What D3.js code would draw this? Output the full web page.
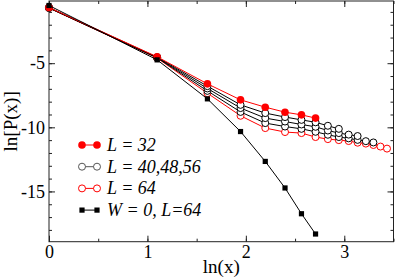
<!DOCTYPE html>
<html>
<head>
<meta charset="utf-8">
<script src="https://cdn.jsdelivr.net/npm/d3@7"></script>
<style>
  html, body { margin: 0; padding: 0; background: #fff; }
  svg { display: block; }
  text { font-family: "Liberation Serif", "Times New Roman", serif; }
</style>
</head>
<body>
<svg id="chart" width="395" height="280"></svg>
<script>
// distances x = 1,3,5,... ; plotted as ln(x)
const distances = [1, 3, 5, 7, 9, 11, 13, 15, 17, 19, 21, 23, 25, 27, 29, 31];

const seriesL32 = [-0.66, -4.50, -6.61, -7.86, -8.43, -8.82, -9.03, -9.28];
const seriesL40 = [-0.67, -4.53, -6.79, -8.25, -8.89, -9.20, -9.42, -9.61, -9.88, -10.12];
const seriesL48 = [-0.68, -4.56, -6.97, -8.50, -9.28, -9.55, -9.78, -9.96, -10.25, -10.45, -10.57, -10.68];
const seriesL56 = [-0.69, -4.58, -7.16, -8.80, -9.67, -9.94, -10.12, -10.35, -10.58, -10.76, -10.86, -10.98, -11.08, -11.18];
const seriesL64 = [-0.70, -4.60, -7.34, -9.10, -10.06, -10.37, -10.45, -10.76, -10.92, -11.00, -11.07, -11.20, -11.27, -11.38, -11.50, -11.66];
const seriesW0  = [-0.50, -4.74, -7.78, -10.33, -12.66, -14.73, -16.74, -18.32];

const xMajorTicks = [0, 1, 2, 3];
const yMajorTicks = [-5, -10, -15];
const legendLabels = ["L = 32", "L = 40,48,56", "L = 64", "W = 0, L=64"];

const svg = d3.select("#chart");
const pLeft = 49, pRight = 393.5, pTop = 1, pBottom = 241.7;

const x = d3.scaleLinear().domain([0, 3.5]).range([pLeft, pRight]);
const y = d3.scaleLinear().domain([-18.92, -0.15]).range([pBottom, pTop]);

const line = d3.line().x(d => x(d[0])).y(d => y(d[1]));
const pts = vals => vals.map((v, i) => [Math.log(distances[i]), v]);

// axes (ticks inward)
const fs = 18;
function styleAxis(g) {
  g.select(".domain").remove();
  g.selectAll("line").attr("stroke", "#222");
  g.selectAll("text").attr("font-size", fs).attr("fill", "#000")
    .attr("font-family", '"Liberation Serif", serif');
}
const xMinor = d3.range(0, 3.51, 0.5);
const yMinor = d3.range(-18, 0, 1);

svg.append("g").attr("transform", `translate(0,${pBottom})`)
  .call(d3.axisBottom(x).tickValues(xMinor).tickSize(-3).tickFormat("")).call(styleAxis);
svg.append("g").attr("transform", `translate(0,${pBottom})`)
  .call(d3.axisBottom(x).tickValues(xMajorTicks).tickSize(-6).tickPadding(4).tickFormat(d3.format("d"))).call(styleAxis);
svg.append("g").attr("transform", `translate(0,${pTop})`)
  .call(d3.axisTop(x).tickValues(xMinor).tickSize(-3).tickFormat("")).call(styleAxis);
svg.append("g").attr("transform", `translate(0,${pTop})`)
  .call(d3.axisTop(x).tickValues(xMajorTicks).tickSize(-6).tickFormat("")).call(styleAxis);

svg.append("g").attr("transform", `translate(${pLeft},0)`)
  .call(d3.axisLeft(y).tickValues(yMinor).tickSize(-3).tickFormat("")).call(styleAxis);
svg.append("g").attr("transform", `translate(${pLeft},0)`)
  .call(d3.axisLeft(y).tickValues(yMajorTicks).tickSize(-6).tickPadding(4).tickFormat(d => d3.format("d")(d).replace("−", "-"))).call(styleAxis);
svg.append("g").attr("transform", `translate(${pRight},0)`)
  .call(d3.axisRight(y).tickValues(yMinor).tickSize(-3).tickFormat("")).call(styleAxis);
svg.append("g").attr("transform", `translate(${pRight},0)`)
  .call(d3.axisRight(y).tickValues(yMajorTicks).tickSize(-6).tickFormat("")).call(styleAxis);

svg.append("rect").attr("x", pLeft).attr("y", pTop).attr("width", pRight - pLeft).attr("height", pBottom - pTop)
  .attr("fill", "none").attr("stroke", "#222").attr("stroke-width", 1);

// axis titles
svg.append("text").attr("x", (pLeft + pRight) / 2).attr("y", 273).attr("text-anchor", "middle")
  .attr("font-size", 19).text("ln(x)");
svg.append("text").attr("transform", `translate(17,${(pTop + pBottom) / 2}) rotate(-90)`)
  .attr("text-anchor", "middle").attr("font-size", 19).text("ln[P(x)]");

// series
const series = [
  { vals: seriesL64, color: "#ff0000", marker: "openCircle" },
  { vals: seriesL56, color: "#000", marker: "openCircle" },
  { vals: seriesL48, color: "#000", marker: "openCircle" },
  { vals: seriesL40, color: "#000", marker: "openCircle" },
  { vals: seriesL32, color: "#ff0000", marker: "filledCircle" },
  { vals: seriesW0, color: "#000", marker: "square" }
];

function drawMarker(g, px, py, marker, color) {
  if (marker === "square") {
    g.append("rect").attr("x", px - 2.6).attr("y", py - 2.6).attr("width", 5.2).attr("height", 5.2).attr("fill", color);
  } else if (marker === "filledCircle") {
    g.append("circle").attr("cx", px).attr("cy", py).attr("r", 3.8).attr("fill", color);
  } else {
    g.append("circle").attr("cx", px).attr("cy", py).attr("r", 3.5).attr("fill", "#fff")
      .attr("stroke", color).attr("stroke-width", 1);
  }
}

const plot = svg.append("g");
series.forEach(s => {
  const p = pts(s.vals);
  plot.append("path").attr("d", line(p)).attr("fill", "none").attr("stroke", s.color).attr("stroke-width", 1);
  const mg = plot.append("g");
  p.forEach(d => drawMarker(mg, x(d[0]), y(d[1]), s.marker, s.color));
});

// legend
const legendItems = [
  { marker: "filledCircle", color: "#ff0000", lineColor: "#ff0000" },
  { marker: "openCircle", color: "#555", lineColor: "#555" },
  { marker: "openCircle", color: "#ff0000", lineColor: "#ff0000" },
  { marker: "square", color: "#000", lineColor: "#000" }
];
const lg = svg.append("g");
legendItems.forEach((it, i) => {
  const cy = 145 + i * 21.7;
  lg.append("line").attr("x1", 82).attr("x2", 97).attr("y1", cy).attr("y2", cy)
    .attr("stroke", it.lineColor).attr("stroke-width", 1);
  drawMarker(lg, 82, cy, it.marker, it.color);
  drawMarker(lg, 97, cy, it.marker, it.color);
  lg.append("text").attr("x", 107).attr("y", cy).attr("dy", "0.33em")
    .attr("font-size", 18).attr("font-style", "italic").text(legendLabels[i]);
});
</script>
</body>
</html>
